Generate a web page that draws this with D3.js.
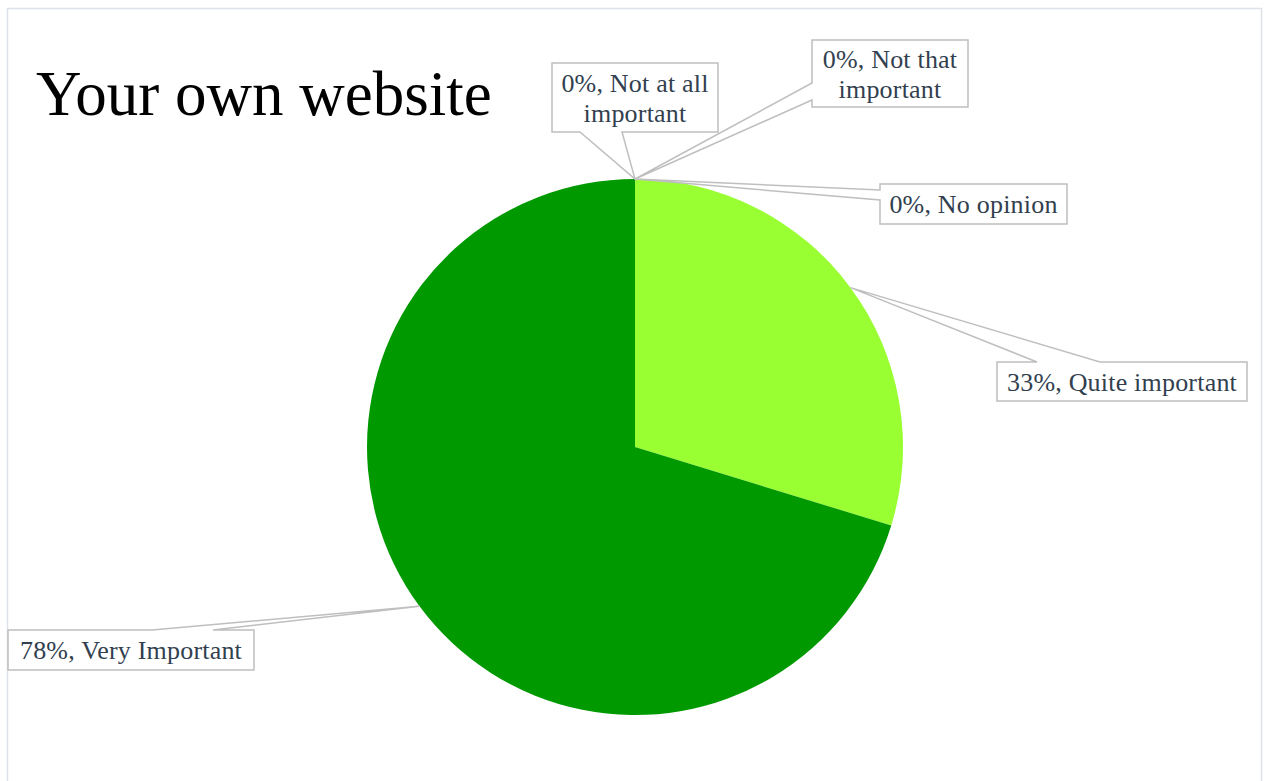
<!DOCTYPE html>
<html>
<head>
<meta charset="utf-8">
<script src="https://cdn.jsdelivr.net/npm/d3@7"></script>
<style>
  html, body { margin: 0; padding: 0; background: #ffffff; }
  svg { display: block; }
</style>
</head>
<body>
<svg id="chart" width="1265" height="781"></svg>
<script>
// Survey answers for "Your own website"
const categories = ["Quite important", "Very Important", "Not at all important", "Not that important", "No opinion"];
const values = [33, 78, 0, 0, 0];
const labelLines = [
  ["33%, Quite important"],
  ["78%, Very Important"],
  ["0%, Not at all", "important"],
  ["0%, Not that", "important"],
  ["0%, No opinion"]
];
const colors = ["#99ff33", "#009900", "#4f81bd", "#c0504d", "#8064a2"];

// Callout boxes: rect and where the pointer wedge leaves the box
const callouts = {
  "Quite important":      { x: 997, y: 362, w: 250, h: 39, side: "top",    a: 1037, b: 1100 },
  "Very Important":       { x: 8,   y: 630, w: 246, h: 40, side: "top",    a: 152,  b: 213 },
  "Not at all important": { x: 552, y: 63,  w: 166, h: 69, side: "bottom", a: 580,  b: 622 },
  "Not that important":   { x: 812, y: 40,  w: 156, h: 67, side: "left",   a: 83,   b: 100 },
  "No opinion":           { x: 880, y: 184, w: 187, h: 40, side: "left",   a: 190,  b: 200 }
};

const svg = d3.select("#chart");
const cx = 635, cy = 447, r = 268;

// outer frame
svg.append("rect")
  .attr("x", 7.5).attr("y", 8.5)
  .attr("width", 1254).attr("height", 790)
  .attr("fill", "#ffffff")
  .attr("stroke", "#dde2e8").attr("stroke-width", 1.5);

// title
svg.append("text")
  .attr("x", 36).attr("y", 115)
  .attr("font-family", "'Liberation Serif', 'Times New Roman', serif")
  .attr("font-size", 63)
  .attr("fill", "#000000")
  .text("Your own website");

const pie = d3.pie().sort(null).value(d => d.value);
const arcs = pie(categories.map((c, i) => ({ name: c, value: values[i], lines: labelLines[i], color: colors[i] })));
const arc = d3.arc().innerRadius(0).outerRadius(r);
const edge = d3.arc().innerRadius(r).outerRadius(r);

const g = svg.append("g").attr("transform", `translate(${cx},${cy})`);
g.selectAll("path.slice")
  .data(arcs.filter(d => d.data.value > 0))
  .join("path")
  .attr("class", "slice")
  .attr("d", arc)
  .attr("fill", d => d.data.color);

// callout shapes with wedge pointing at the slice edge midpoint
function calloutPath(box, tip) {
  const x0 = box.x, y0 = box.y, x1 = box.x + box.w, y1 = box.y + box.h;
  const p = d3.path();
  if (box.side === "top") {
    p.moveTo(x0, y0); p.lineTo(box.a, y0); p.lineTo(tip[0], tip[1]); p.lineTo(box.b, y0);
    p.lineTo(x1, y0); p.lineTo(x1, y1); p.lineTo(x0, y1); p.closePath();
  } else if (box.side === "bottom") {
    p.moveTo(x0, y0); p.lineTo(x1, y0); p.lineTo(x1, y1); p.lineTo(box.b, y1);
    p.lineTo(tip[0], tip[1]); p.lineTo(box.a, y1); p.lineTo(x0, y1); p.closePath();
  } else {
    p.moveTo(x0, y0); p.lineTo(x1, y0); p.lineTo(x1, y1); p.lineTo(x0, y1);
    p.lineTo(x0, box.b); p.lineTo(tip[0], tip[1]); p.lineTo(x0, box.a); p.closePath();
  }
  return p.toString();
}

const labels = svg.append("g");
arcs.forEach(d => {
  const box = callouts[d.data.name];
  const c = edge.centroid(d);
  const tip = [cx + c[0], cy + c[1]];
  labels.append("path")
    .attr("d", calloutPath(box, tip))
    .attr("fill", "#ffffff")
    .attr("stroke", "#bfbfbf")
    .attr("stroke-width", 1.5)
    .attr("stroke-linejoin", "miter");
  const lh = 30;
  const n = d.data.lines.length;
  const t = labels.append("text")
    .attr("x", box.x + box.w / 2)
    .attr("y", box.y + box.h / 2 - (n - 1) * lh / 2)
    .attr("dy", "0.35em")
    .attr("text-anchor", "middle")
    .attr("font-family", "'Liberation Serif', 'Times New Roman', serif")
    .attr("font-size", 26)
    .attr("letter-spacing", 0.2)
    .attr("fill", "#323f4f");
  d.data.lines.forEach((line, i) => {
    t.append("tspan")
      .attr("x", box.x + box.w / 2)
      .attr("dy", i === 0 ? "0.35em" : lh)
      .text(line);
  });
});
</script>
</body>
</html>
